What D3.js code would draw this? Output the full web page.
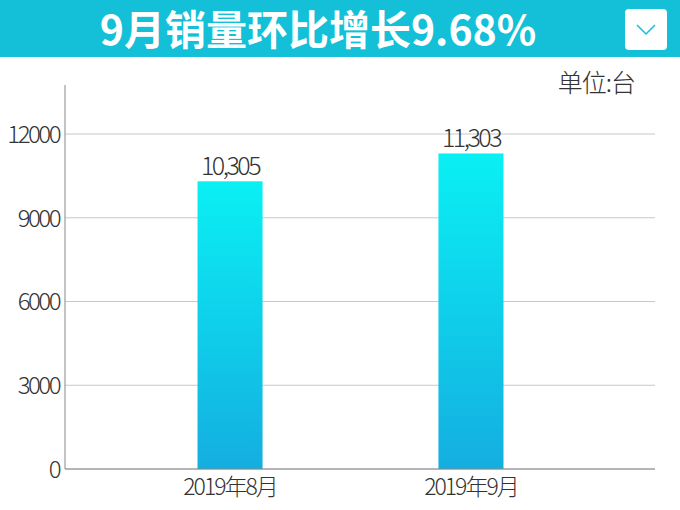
<!DOCTYPE html><html><head><meta charset="utf-8"><script src="https://cdn.jsdelivr.net/npm/d3@7"></script>
<style>body{margin:0;background:#fff}svg{display:block}</style></head><body><svg id="c" width="680" height="510"></svg>
<script>
const categories=["2019年8月","2019年9月"];
const values=[10305,11303];
const labels=["10,305","11,303"];
const yTicks=[0,3000,6000,9000,12000];
const title="9月销量环比增长9.68%";
const unit="单位:台";
const svg=d3.select("#c");
const defs=svg.append("defs");
const g=defs.append("linearGradient").attr("id","bg").attr("x1",0).attr("y1",0).attr("x2",0).attr("y2",1);
g.append("stop").attr("offset","0%").attr("stop-color","#0af0f4");
g.append("stop").attr("offset","100%").attr("stop-color","#14aee0");
svg.append("rect").attr("x",0).attr("y",0).attr("width",680).attr("height",57).attr("fill","#14bfd8");
svg.append("text").attr("x",318).attr("y",45).attr("text-anchor","middle").attr("fill","#fff")
 .attr("font-family","Noto Sans CJK SC").attr("font-weight","bold").attr("font-size",41).text(title);
svg.append("rect").attr("x",625).attr("y",9).attr("width",42).attr("height",41).attr("rx",4).attr("fill","#fff");
svg.append("path").attr("d","M637,25 L646,34 L655,25").attr("fill","none").attr("stroke","#14bfd8").attr("stroke-width",1.5);
svg.append("text").attr("x",635).attr("y",92).attr("text-anchor","end").attr("fill","#333")
 .attr("font-family","Noto Sans CJK SC").attr("font-weight","300").attr("font-size",25).attr("letter-spacing",-1).text(unit);
const y=d3.scaleLinear().domain([0,12000]).range([469,134]);
const x=d3.scaleBand().domain(categories).range([65,636]).paddingInner(0.73).paddingOuter(0.55);
const grid=svg.append("g");
yTicks.forEach(t=>{grid.append("line").attr("x1",65).attr("x2",655).attr("y1",y(t)).attr("y2",y(t)).attr("stroke","#c8c8c8").attr("stroke-width",1);});
const ya=svg.append("g").attr("transform","translate(65,0)").call(d3.axisLeft(y).tickValues(yTicks).tickSize(0).tickPadding(6).tickFormat(d3.format("d")));
ya.select(".domain").remove();
ya.append("line").attr("x1",0).attr("x2",0).attr("y1",85).attr("y2",469).attr("stroke","#888");
ya.selectAll("text").attr("font-family","Noto Sans CJK SC").attr("font-weight","300").attr("font-size",24).attr("letter-spacing",-2.5).attr("fill","#333").attr("dy","0.35em");
svg.selectAll(".bar").data(values).enter().append("rect").attr("x",(d,i)=>x(categories[i])).attr("width",x.bandwidth())
 .attr("y",d=>y(d)).attr("height",d=>469-y(d)).attr("fill","url(#bg)");
svg.selectAll(".lbl").data(values).enter().append("text").attr("x",(d,i)=>x(categories[i])+x.bandwidth()/2).attr("y",d=>y(d)-6)
 .attr("text-anchor","middle").attr("font-family","Noto Sans CJK SC").attr("font-weight","300").attr("font-size",25).attr("letter-spacing",-2.5).attr("fill","#333").text((d,i)=>labels[i]);
const xa=svg.append("g").attr("transform","translate(0,469)").call(d3.axisBottom(x).tickSize(0).tickPadding(10));
xa.select(".domain").remove();
xa.append("line").attr("x1",65).attr("x2",655).attr("y1",0).attr("y2",0).attr("stroke","#888");
xa.selectAll("text").attr("font-family","Noto Sans CJK SC").attr("font-weight","300").attr("font-size",23).attr("letter-spacing",-2).attr("fill","#333").attr("dy","0.7em");
</script></body></html>
